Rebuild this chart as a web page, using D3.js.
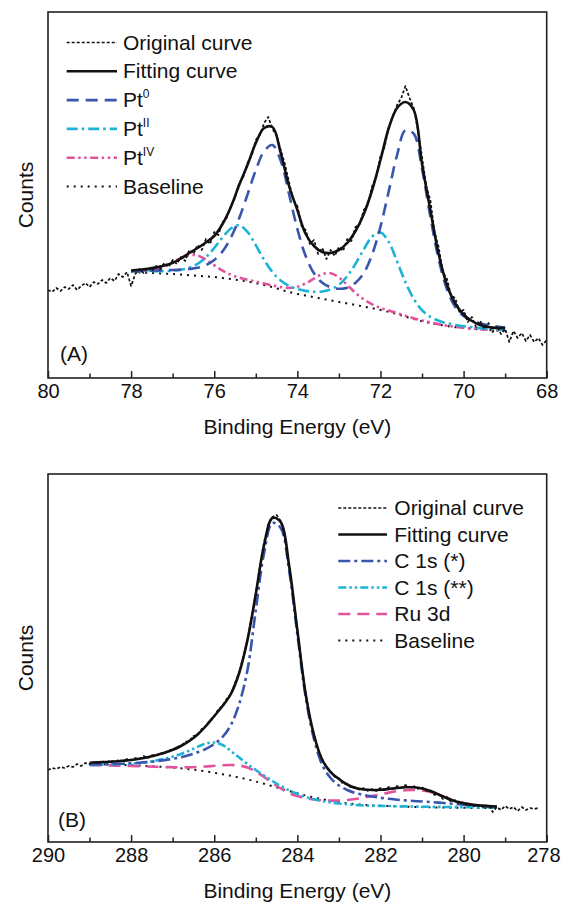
<!DOCTYPE html>
<html>
<head>
<meta charset="utf-8">
<script src="https://cdn.jsdelivr.net/npm/d3@7"></script>
<style>
  body { margin: 0; background: #fff; }
  svg { display: block; font-family: "Liberation Sans", Arial, Helvetica, sans-serif; }
</style>
</head>
<body>
<svg id="chart" width="561" height="905"></svg>
<script>
// ---------- panel A : Pt 4f ----------
const energyA = [78.0,77.8,77.6,77.4,77.2,77.0,76.8,76.6,76.4,76.2,76.0,75.8,75.6,75.4,75.2,75.0,74.8,74.6,74.4,74.2,
  74.0,73.8,73.6,73.4,73.2,73.0,72.8,72.6,72.4,72.2,72.0,71.8,71.6,71.4,71.2,71.0,70.8,70.6,70.4,70.2,
  70.0,69.8,69.6,69.4,69.2,69.0];
const baselineA = [106,105.6,105.2,104.8,104.4,104,103.4,102.8,102.2,101.6,101,100,99,97.8,96.4,95,93,90.8,88.4,86,
  84,82.4,80.8,79.2,77.6,76,74.6,73,71.4,69.8,68,66,63.8,61.4,59,56.8,55,53.4,52,50.8,
  50,49.2,48.6,48,47.5,47];
const pt0A = [107.0,107.1,107.3,107.5,107.7,108.0,108.4,109.0,110.2,112.9,118.0,126.6,140.3,159.7,183.4,207.8,226.7,232.9,217.3,184.0,
  149.1,122.0,104.7,95.2,90.7,89.2,90.3,95.3,105.1,123.5,151.3,186.9,223.0,247.8,244.3,209.2,161.5,118.9,88.8,71.0,
  62.0,57.2,54.6,52.8,51.5,50.5];
const pt2A = [106.8,106.8,106.7,106.8,106.9,107.3,108.3,110.3,114.2,120.7,130.0,140.5,149.5,152.7,146.1,132.8,118.2,106.0,97.5,92.1,
  88.9,87.1,86.3,86.5,88.6,93.2,101.9,114.2,128.7,141.4,145.4,136.0,116.6,95.9,79.2,67.8,61.2,57.3,54.8,53.0,
  51.8,50.8,49.9,49.2,48.5,47.9];
const pt4A = [106.6,107.0,107.5,108.9,111.6,115.6,120.0,123.0,122.4,118.3,112.8,107.4,103.3,100.4,98.2,96.5,94.5,92.6,90.9,90.1,
  91.2,94.6,99.4,103.8,104.8,100.6,93.1,85.1,78.5,73.7,70.2,67.4,64.8,62.2,59.7,57.4,55.5,53.8,52.4,51.1,
  50.3,49.5,48.8,48.2,47.7,47.2];
const fitA = [107.5,108.2,109.2,110.6,112.4,115.2,119.5,125,130,135.5,142,154,171,193,213,235,250,251,225,192,
  168,144,132,126,125,128,135,147,164,188,218,250,270,276,268,214,168,124,93,74.5,
  63.5,57,53,51,50,50];
const rawEnergyA = [80.0,79.9,79.8,79.7,79.6,79.5,79.4,79.3,79.2,79.1,79.0,78.9,78.8,78.7,78.6,78.5,78.4,78.3,78.2,78.1,
  78.0,77.9,77.8,77.7,77.6,77.5,77.4,77.3,77.2,77.1,77.0,76.9,76.8,76.7,76.6,76.5,76.4,76.3,76.2,76.1,
  76.0,75.9,75.8,75.7,75.6,75.5,75.4,75.3,75.2,75.1,75.0,74.9,74.8,74.7,74.6,74.5,74.4,74.3,74.2,74.1,
  74.0,73.9,73.8,73.7,73.6,73.5,73.4,73.3,73.2,73.1,73.0,72.9,72.8,72.7,72.6,72.5,72.4,72.3,72.2,72.1,
  72.0,71.9,71.8,71.7,71.6,71.5,71.4,71.3,71.2,71.1,71.0,70.9,70.8,70.7,70.6,70.5,70.4,70.3,70.2,70.1,
  70.0,69.9,69.8,69.7,69.6,69.5,69.4,69.3,69.2,69.1,69.0,68.9,68.8,68.7,68.6,68.5,68.4,68.3,68.2,68.1,68.0];
const rawA = [88,86,90,87,91,89,93,88,92,95,91,96,94,98,95,100,97,104,101,106,
  92,104,109,105,110,107,112,109,115,111,118,114,121,117,128,124,133,128,139,134,
  146,143,156,160,172,180,195,201,215,222,238,243,255,261,249,243,228,214,196,178,
  172,152,148,134,138,124,130,119,128,122,131,127,139,137,151,154,168,174,192,201,
  222,231,251,262,273,280,292,280,270,248,221,192,178,146,131,106,99,82,80,66,
  68,56,61,51,57,49,55,46,52,44,49,36,47,40,45,37,43,36,40,33,38];

// ---------- panel B : C 1s / Ru 3d ----------
const energyB = [289.0,288.8,288.6,288.4,288.2,288.0,287.8,287.6,287.4,287.2,287.0,286.8,286.6,286.4,286.2,286.0,285.8,285.6,285.4,285.2,
  285.0,284.8,284.6,284.4,284.2,284.0,283.8,283.6,283.4,283.2,283.0,282.8,282.6,282.4,282.2,282.0,281.8,281.6,281.4,281.2,
  281.0,280.8,280.6,280.4,280.2,280.0,279.8,279.6,279.4,279.2];
const baselineB = [78,77.8,77.6,77.4,77.1,76.8,76.4,76,75.5,75,74.4,73.7,72.8,71.8,70.6,69.2,67.8,66.2,64.5,62.6,
  60.5,58.2,55.8,53.4,51,48.7,46.5,44.5,42.8,41.2,39.9,38.8,37.9,37.2,36.7,36.3,36,35.7,35.4,35.1,
  34.9,34.7,34.5,34.4,34.3,34.2,34.1,34,34,33.9];
const c1sA_B = [77.5,77.6,77.8,78,78.3,78.7,79.2,79.9,80.8,81.9,83.2,84.8,87,89.7,93.2,98,105,117,138,172,
  232,289,319,314,272,208,145,103,77,64,56.5,52,49,47,45.5,44.2,43.2,42.3,41.6,41,
  40.5,40,39.4,38.7,38,37.3,36.7,36.2,35.8,35.5];
const c1sB_B = [77,77.2,77.4,77.7,78,78.4,79,80,81.4,83.2,85.4,88,91.3,95.2,98.5,99.5,97,91,84.5,78,
  72,66.3,61,56,51.7,48,45,42.7,41,39.6,38.5,37.7,37,36.5,36.2,36.1,36,35.8,35.6,35.5,
  35.3,35.2,35.1,35,34.9,34.8,34.7,34.6,34.6,34.5];
const ru3dB = [77,76.8,76.6,76.4,76.2,76,75.7,75.5,75.2,75,74.8,74.7,74.7,75,75.5,76.2,76.8,77,76.5,74.5,
  70.5,65,59,53.5,49,46,44,42.5,41.7,41.4,41.5,42,43,44.4,46,47.7,49.4,50.8,51.7,52,
  51.5,50,47.5,44.2,41.2,39,37.4,36.3,35.7,35.3];
const fitB = [79.3,79.6,80.0,80.5,81.2,82,83.2,84.7,86.7,89.2,92.2,96,101,107.5,116,126,136,148,169,202,
  248,297,324,320,277,212,148,107,82,70,63,57.5,54,52.5,52,52.2,53,54,54.7,54.7,
  53.5,51,47.5,43.7,40.7,38.7,37.4,36.5,35.9,35.5];
const rawEnergyB = [290.0,289.9,289.8,289.7,289.6,289.5,289.4,289.3,289.2,289.1,289.0,288.9,288.8,288.7,288.6,288.5,288.4,288.3,288.2,288.1,
  288.0,287.9,287.8,287.7,287.6,287.5,287.4,287.3,287.2,287.1,287.0,286.9,286.8,286.7,286.6,286.5,286.4,286.3,286.2,286.1,
  286.0,285.9,285.8,285.7,285.6,285.5,285.4,285.3,285.2,285.1,285.0,284.9,284.8,284.7,284.6,284.5,284.4,284.3,284.2,284.1,
  284.0,283.9,283.8,283.7,283.6,283.5,283.4,283.3,283.2,283.1,283.0,282.9,282.8,282.7,282.6,282.5,282.4,282.3,282.2,282.1,
  282.0,281.9,281.8,281.7,281.6,281.5,281.4,281.3,281.2,281.1,281.0,280.9,280.8,280.7,280.6,280.5,280.4,280.3,280.2,280.1,
  280.0,279.9,279.8,279.7,279.6,279.5,279.4,279.3,279.2,279.1,279.0,278.9,278.8,278.7,278.6,278.5,278.4,278.3,278.2];
const rawB = [72,74,73,75,74,76,75,78,76,79,78,80,79,81,79,82,80,82,81,83,
  82,84,83,86,84,87,86,89,88,92,91,95,96,100,101,106,107,113,116,122,
  125,133,136,143,148,159,169,186,202,226,248,276,300,317,325,327,321,303,277,245,
  212,178,148,125,107,92,83,75,71,65,64,58,58,54,55,52,54,51,53,51,
  54,52,55,53,56,54,57,55,56,53,55,51,52,47,48,43,45,40,42,38,
  40,36,38,35,37,34,37,30,35,32,36,33,35,31,35,32,34,33,34];

const ticksA = [80, 78, 76, 74, 72, 70, 68];
const minorA = [79, 77, 75, 73, 71, 69];
const ticksB = [290, 288, 286, 284, 282, 280, 278];
const minorB = [289, 287, 285, 283, 281, 279];

const blue = "#3a55ae", cyan = "#1db3d7", pink = "#e3539d", ink = "#111";

const svg = d3.select("#chart");
const plotLeft = 48, plotRight = 546.7, pageRight = 560;

function drawPanel(p) {
  const x = d3.scaleLinear().domain(p.xDomain).range([plotLeft, plotRight]);
  const y = d3.scaleLinear().domain([0, p.bottom - p.top]).range([p.bottom, p.top]);
  const g = svg.append("g");

  // curves, back to front
  p.series.forEach(s => {
    const line = d3.line()
      .x((d, i) => x(s.energy[i]))
      .y(d => y(d))
      .curve(s.smooth ? d3.curveCatmullRom.alpha(0.5) : d3.curveLinear);
    g.append("path")
      .datum(s.values)
      .attr("d", line)
      .attr("fill", "none")
      .attr("stroke", s.color)
      .attr("stroke-width", s.width)
      .attr("stroke-dasharray", s.dash || null)
      .attr("stroke-linejoin", "round");
  });

  // frame
  g.append("rect")
    .attr("x", plotLeft).attr("y", p.top)
    .attr("width", plotRight - plotLeft).attr("height", p.bottom - p.top)
    .attr("fill", "none").attr("stroke", "#222").attr("stroke-width", 1.6);

  // ticks point inwards
  const ax = g.append("g").attr("transform", `translate(0,${p.bottom})`)
    .call(d3.axisBottom(x).tickValues(p.ticks).tickSizeInner(-7).tickSizeOuter(0)
      .tickPadding(6).tickFormat(d3.format("d")));
  ax.select(".domain").remove();
  ax.selectAll("line").attr("stroke", "#222").attr("stroke-width", 1.5);
  ax.selectAll("text").attr("font-size", 20).attr("fill", ink)
    .attr("font-family", "Liberation Sans, Arial, sans-serif");
  // keep the last label inside the page
  ax.selectAll("text").each(function () {
    const b = this.getBBox();
    const tx = x(+this.textContent);
    if (tx + b.x + b.width > pageRight) {
      d3.select(this).attr("text-anchor", "end").attr("x", pageRight - tx);
    }
  });

  const minor = g.append("g").attr("transform", `translate(0,${p.bottom})`)
    .call(d3.axisBottom(x).tickValues(p.minor).tickSizeInner(-4.5).tickSizeOuter(0).tickFormat(""));
  minor.select(".domain").remove();
  minor.selectAll("line").attr("stroke", "#222").attr("stroke-width", 1.5);

  // axis titles
  g.append("text")
    .attr("x", (plotLeft + plotRight) / 2).attr("y", p.bottom + 56)
    .attr("text-anchor", "middle").attr("font-size", 21).attr("fill", ink)
    .text("Binding Energy (eV)");
  g.append("text")
    .attr("transform", `translate(33,${(p.top + p.bottom) / 2}) rotate(-90)`)
    .attr("text-anchor", "middle").attr("font-size", 21).attr("fill", ink)
    .text("Counts");

  // panel tag
  g.append("text")
    .attr("x", p.tag.x).attr("y", p.tag.y)
    .attr("font-size", 21).attr("fill", ink)
    .text(p.tag.text);

  // legend
  const lg = g.append("g");
  p.legend.forEach((item, i) => {
    const by = p.legendPos.rows[i];
    lg.append("line")
      .attr("x1", p.legendPos.x1).attr("x2", p.legendPos.x2)
      .attr("y1", by - 7).attr("y2", by - 7)
      .attr("stroke", item.s.color).attr("stroke-width", item.s.width)
      .attr("stroke-dasharray", item.s.dash || null);
    const t = lg.append("text")
      .attr("x", p.legendPos.tx).attr("y", by)
      .attr("font-size", 21).attr("fill", ink);
    t.append("tspan").text(item.label);
    if (item.sup) {
      t.append("tspan").attr("dy", -9).attr("font-size", 12).text(item.sup);
    }
  });
}

// panel A
const sRawA = { energy: rawEnergyA, values: rawA, color: ink, width: 1.7, dash: "3,2", smooth: false };
const sFitA = { energy: energyA, values: fitA, color: ink, width: 2.6, smooth: true };
const sPt0 = { energy: energyA, values: pt0A, color: blue, width: 2.6, dash: "12,7", smooth: true };
const sPt2 = { energy: energyA, values: pt2A, color: cyan, width: 2.6, dash: "11,4,2.5,4", smooth: true };
const sPt4 = { energy: energyA, values: pt4A, color: pink, width: 2.6, dash: "8,3.5,2.5,3.5,2.5,3.5", smooth: true };
const sBaseA = { energy: energyA, values: baselineA, color: ink, width: 2, dash: "2,5", smooth: true };

drawPanel({
  top: 12, bottom: 378, xDomain: [80, 68], ticks: ticksA, minor: minorA,
  series: [sBaseA, sPt4, sPt2, sPt0, sFitA, sRawA],
  tag: { text: "(A)", x: 60, y: 361 },
  legendPos: { x1: 66.7, x2: 117, tx: 123, rows: [49.5, 78.3, 107.1, 135.9, 164.7, 193.5] },
  legend: [
    { label: "Original curve", s: sRawA },
    { label: "Fitting curve", s: sFitA },
    { label: "Pt", sup: "0", s: sPt0 },
    { label: "Pt", sup: "II", s: sPt2 },
    { label: "Pt", sup: "IV", s: sPt4 },
    { label: "Baseline", s: sBaseA }
  ]
});

// panel B
const sRawB = { energy: rawEnergyB, values: rawB, color: ink, width: 1.7, dash: "3,2", smooth: false };
const sFitB = { energy: energyB, values: fitB, color: ink, width: 2.6, smooth: true };
const sC1 = { energy: energyB, values: c1sA_B, color: blue, width: 2.6, dash: "12,4,3,4", smooth: true };
const sC2 = { energy: energyB, values: c1sB_B, color: cyan, width: 2.6, dash: "8,3,2.5,3,2.5,3", smooth: true };
const sRu = { energy: energyB, values: ru3dB, color: pink, width: 2.6, dash: "12,7", smooth: true };
const sBaseB = { energy: energyB, values: baselineB, color: ink, width: 2, dash: "2,5", smooth: true };

drawPanel({
  top: 474, bottom: 842, xDomain: [290, 278], ticks: ticksB, minor: minorB,
  series: [sBaseB, sRu, sC2, sC1, sFitB, sRawB],
  tag: { text: "(B)", x: 58, y: 827 },
  legendPos: { x1: 338.3, x2: 387, tx: 394.3, rows: [515, 541.5, 568, 594.5, 621, 647.5] },
  legend: [
    { label: "Original curve", s: sRawB },
    { label: "Fitting curve", s: sFitB },
    { label: "C 1s (*)", s: sC1 },
    { label: "C 1s (**)", s: sC2 },
    { label: "Ru 3d", s: sRu },
    { label: "Baseline", s: sBaseB }
  ]
});
</script>
</body>
</html>
